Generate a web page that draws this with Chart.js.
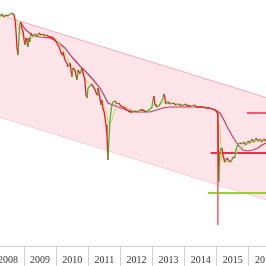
<!DOCTYPE html>
<html>
<head>
<meta charset="utf-8">
<script src="https://cdn.jsdelivr.net/npm/chart.js@4/dist/chart.umd.min.js"></script>
<style>
  html, body { margin: 0; padding: 0; background: #fff; }
</style>
</head>
<body>
<canvas id="chart" width="266" height="266"></canvas>
<script>
// price (decimal year / index value)
var priceDates = [
    2008.25, 2008.31, 2008.37, 2008.44, 2008.50, 2008.56, 2008.62, 2008.69, 2008.72, 2008.75,
    2008.78, 2008.81, 2008.84, 2008.87, 2008.90, 2008.93, 2008.97, 2009.00, 2009.03, 2009.06,
    2009.09, 2009.12, 2009.15, 2009.18, 2009.21, 2009.25, 2009.28, 2009.34, 2009.40, 2009.46,
    2009.53, 2009.59, 2009.65, 2009.71, 2009.77, 2009.84, 2009.90, 2009.96, 2010.02, 2010.09,
    2010.12, 2010.18, 2010.21, 2010.27, 2010.33, 2010.37, 2010.43, 2010.49, 2010.52, 2010.58,
    2010.65, 2010.68, 2010.74, 2010.80, 2010.83, 2010.89, 2010.93, 2010.96, 2010.99, 2011.05,
    2011.11, 2011.14, 2011.21, 2011.27, 2011.30, 2011.36, 2011.39, 2011.42, 2011.45, 2011.49,
    2011.52, 2011.55, 2011.58, 2011.61, 2011.64, 2011.67, 2011.70, 2011.73, 2011.77, 2011.83,
    2011.89, 2011.95, 2012.01, 2012.08, 2012.14, 2012.20, 2012.30, 2012.39, 2012.45, 2012.51,
    2012.61, 2012.70, 2012.79, 2012.85, 2012.92, 2012.98, 2013.01, 2013.04, 2013.07, 2013.14,
    2013.20, 2013.26, 2013.32, 2013.35, 2013.38, 2013.41, 2013.48, 2013.54, 2013.63, 2013.73,
    2013.82, 2013.91, 2014.01, 2014.10, 2014.19, 2014.29, 2014.38, 2014.47, 2014.57, 2014.66,
    2014.75, 2014.85, 2014.94, 2015.00, 2015.03, 2015.06, 2015.10, 2015.16, 2015.19, 2015.25,
    2015.31, 2015.38, 2015.44, 2015.50, 2015.56, 2015.59, 2015.66, 2015.72, 2015.78, 2015.84,
    2015.90, 2015.97, 2016.03, 2016.09, 2016.15, 2016.22, 2016.28, 2016.34, 2016.40, 2016.46,
    2016.53
];
var priceValues = [
    230, 232, 229, 231, 230, 232, 233, 231, 226, 214,
    198, 191, 208, 222, 224, 218, 214, 206, 201, 208,
    204, 199, 208, 204, 213, 211, 210, 212, 210, 213,
    211, 212, 210, 211, 209, 209, 208, 206, 203, 199,
    196, 191, 194, 186, 183, 179, 183, 169, 178, 176,
    166, 176, 172, 178, 174, 166, 151, 148, 158, 160,
    162, 160, 156, 151, 158, 148, 141, 146, 138, 134,
    128, 121, 111, 86, 106, 124, 134, 140, 144, 145,
    142, 143, 140, 139, 138, 136, 134, 134, 135, 134,
    136, 136, 134, 135, 137, 139, 146, 150, 142, 139,
    140, 144, 147, 152, 149, 142, 144, 142, 143, 141,
    142, 140, 142, 140, 140, 141, 139, 139, 139, 138,
    138, 137, 136, 134, 132, 64, 96, 98, 91, 84,
    88, 85, 84, 89, 88, 96, 102, 103, 102, 104,
    101, 105, 103, 107, 104, 108, 105, 107, 104, 107,
    105
];

// slow moving average
var slowDates = [
    2008.87, 2009.06, 2009.28, 2009.50, 2009.81, 2010.05, 2010.27, 2010.49, 2010.74, 2010.96,
    2011.21, 2011.36, 2011.52, 2011.61, 2011.77, 2011.92, 2012.20, 2012.45, 2012.67, 2012.92,
    2013.13, 2013.32, 2013.54, 2013.85, 2014.16, 2014.47, 2014.78, 2014.97, 2015.10, 2015.22,
    2015.34, 2015.50, 2015.66, 2015.81, 2015.97, 2016.12, 2016.28, 2016.40, 2016.53
];
var slowValues = [
    224, 216, 210, 209, 208, 204, 198, 189, 180, 173,
    164, 158, 149, 143, 141, 139, 136, 134, 134, 134,
    136, 138, 139, 139, 139, 139, 138, 136, 133, 126,
    118, 109, 101, 96, 95, 96, 98, 101, 103
];

// fast moving average
var fastDates = [
    2008.25, 2008.44, 2008.62, 2008.75, 2008.87, 2009.00, 2009.12, 2009.25, 2009.43, 2009.65,
    2009.87, 2010.02, 2010.18, 2010.33, 2010.49, 2010.65, 2010.80, 2010.96, 2011.11, 2011.27,
    2011.42, 2011.55, 2011.64, 2011.73, 2011.83, 2011.98, 2012.20, 2012.45, 2012.67, 2012.92,
    2013.07, 2013.23, 2013.41, 2013.60, 2013.85, 2014.16, 2014.47, 2014.78, 2015.00, 2015.10,
    2015.16, 2015.28, 2015.41, 2015.53, 2015.66, 2015.81, 2016.03, 2016.28, 2016.53
];
var fastValues = [
    229, 231, 231, 226, 214, 210, 206, 208, 211, 211,
    209, 206, 198, 188, 180, 174, 174, 164, 160, 156,
    146, 134, 121, 126, 136, 141, 138, 135, 135, 136,
    142, 141, 145, 143, 142, 140, 139, 138, 135, 116,
    86, 83, 85, 88, 96, 100, 103, 105, 105
];

// trend channel and levels
var channelDates = [2008.25, 2016.53];
var channelUpper = [231, 148.5];
var channelLower = [129, 46.5];
var resistance = { from: 2015.94, to: 2016.53, value: 133 };
var pivot = { from: 2014.81, to: 2016.53, value: 93 };
var support = { from: 2014.72, to: 2016.53, value: 53 };
var crashMarker = { date: 2015.03, from: 133, to: 21 };

var yearTicks = [2008, 2009, 2010, 2011, 2012, 2013, 2014, 2015, 2016];

function pts(dates, values) {
    return dates.map(function (d, i) { return { x: d, y: values[i] }; });
}

var upColor = 'rgb(76, 178, 52)';
var downColor = 'rgb(232, 28, 36)';

const ctx = document.getElementById('chart').getContext('2d');
const myChart = new Chart(ctx, {
    type: 'line',
    data: {
        datasets: [
            {
                label: 'Price',
                data: pts(priceDates, priceValues),
                borderColor: downColor,
                borderWidth: 1.3,
                segment: {
                    borderColor: function (c) {
                        return c.p1.parsed.y > c.p0.parsed.y ? upColor : downColor;
                    }
                },
                order: 1
            },
            {
                label: 'Fast MA',
                data: pts(fastDates, fastValues),
                borderColor: 'rgb(196, 214, 104)',
                borderWidth: 1,
                order: 2
            },
            {
                label: 'Slow MA',
                data: pts(slowDates, slowValues),
                borderColor: 'rgb(190, 60, 92)',
                borderWidth: 1.2,
                order: 3
            },
            {
                label: 'Crash',
                data: [{ x: crashMarker.date, y: crashMarker.from }, { x: crashMarker.date, y: crashMarker.to }],
                borderColor: 'rgb(248, 100, 110)',
                borderWidth: 1,
                order: 4
            },
            {
                label: 'Pivot',
                data: [{ x: pivot.from, y: pivot.value }, { x: pivot.to, y: pivot.value }],
                borderColor: 'rgb(240, 44, 72)',
                borderWidth: 2,
                order: 5
            },
            {
                label: 'Resistance',
                data: [{ x: resistance.from, y: resistance.value }, { x: resistance.to, y: resistance.value }],
                borderColor: 'rgb(240, 44, 72)',
                borderWidth: 1.5,
                order: 6
            },
            {
                label: 'Support',
                data: [{ x: support.from, y: support.value }, { x: support.to, y: support.value }],
                borderColor: 'rgb(150, 206, 60)',
                borderWidth: 2,
                order: 7
            },
            {
                label: 'Channel top',
                data: pts(channelDates, channelUpper),
                borderColor: 'rgb(248, 168, 184)',
                borderWidth: 1,
                backgroundColor: 'rgb(253, 228, 233)',
                fill: '+1',
                order: 8
            },
            {
                label: 'Channel bottom',
                data: pts(channelDates, channelLower),
                borderColor: 'rgb(248, 168, 184)',
                borderWidth: 1,
                order: 9
            }
        ]
    },
    options: {
        responsive: false,
        animation: false,
        layout: { padding: 0 },
        elements: { point: { radius: 0 }, line: { tension: 0 } },
        plugins: { legend: { display: false }, tooltip: { enabled: false } },
        scales: {
            x: {
                type: 'linear',
                min: 2008.25,
                max: 2016.53,
                afterBuildTicks: function (s) {
                    s.ticks = yearTicks.map(function (v) { return { value: v }; });
                },
                afterFit: function (s) {
                    s.paddingLeft = 0;
                    s.paddingRight = 0;
                    s.height = 20;
                },
                grid: { drawOnChartArea: false, tickLength: 20, color: 'rgb(204, 208, 216)' },
                border: { color: 'rgb(204, 208, 216)' },
                ticks: {
                    autoSkip: false,
                    maxRotation: 0,
                    labelOffset: 16,
                    padding: -10.5,
                    color: '#333',
                    font: { family: 'Liberation Sans Narrow', size: 10, lineHeight: 1 },
                    callback: function (v) { return String(v); }
                }
            },
            y: {
                display: false,
                min: 0,
                max: 246
            }
        }
    }
});
</script>
</body>
</html>
